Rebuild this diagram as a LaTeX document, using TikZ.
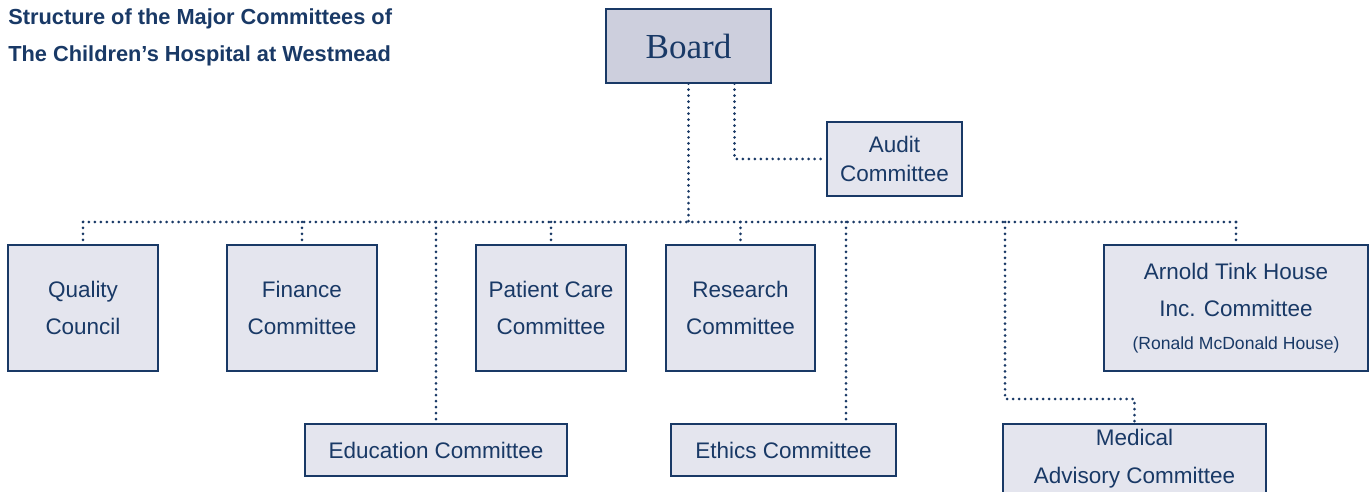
\documentclass[tikz,border=0pt]{standalone}
\usepackage{fontspec}
\setmainfont{Liberation Sans}
\newfontfamily\boardfont{Liberation Serif}
\usepackage{tikz}
\usetikzlibrary{positioning,calc}

\definecolor{navy}{RGB}{25,57,102}
\definecolor{boxfill}{RGB}{228,229,238}
\definecolor{boardfill}{RGB}{205,207,221}

\begin{document}
\begin{tikzpicture}[
  x=0.02cm, y=-0.02cm,
  font=\fontsize{12.8}{21.5}\selectfont,
  box/.style  ={draw=navy,fill=boxfill,line width=0.85pt,text=navy,
                align=center,inner sep=0pt},
  topbox/.style={box,fill=boardfill,font=\boardfont\fontsize{20}{24}\selectfont},
  ttl/.style  ={font=\bfseries\fontsize{12.4}{21}\selectfont,text=navy,
                align=left,inner sep=0pt},
  link/.style ={draw=navy,line width=1.7pt,line cap=round,
                dash pattern=on 0pt off 3.4pt}]

\useasboundingbox[fill=white] (0,0) rectangle (1369,492);

%---------------- Heading ----------------
\node[ttl,anchor=west] (title) at (8,37)
  {Structure of the Major Committees of\\The Children's Hospital at Westmead};

%---------------- Board and audit ----------------
\node[topbox,minimum width=3.3cm,minimum height=1.48cm] (board) at (688.5,46) {Board};
\node[box,minimum width=2.7cm,minimum height=1.48cm,
      font=\fontsize{12.8}{16.4}\selectfont] (audit) at (894.5,159) {Audit\\Committee};

%---------------- Upper row ----------------
\node[box,minimum width=3cm,minimum height=2.52cm]    (quality)  at (83,308)    {Quality\\Council};
\node[box,minimum width=3cm,minimum height=2.52cm]    (finance)  at (302,308)   {Finance\\Committee};
\node[box,minimum width=3cm,minimum height=2.52cm]    (patient)  at (551,308)   {Patient Care\\Committee};
\node[box,minimum width=2.98cm,minimum height=2.52cm] (research) at (740.5,308) {Research\\Committee};
\node[box,minimum width=5.28cm,minimum height=2.52cm] (arnold)   at (1236,308)
  {Arnold Tink House\\Inc. Committee\\[-3pt]{\fontsize{10}{12}\selectfont(Ronald McDonald House)}};

%---------------- Lower row ----------------
\node[box,minimum width=5.24cm,minimum height=1.04cm] (education) at (436,450)    {Education Committee};
\node[box,minimum width=4.5cm,minimum height=1.04cm]  (ethics)    at (783.5,450)  {Ethics Committee};
\node[box,minimum width=5.26cm,minimum height=1.4cm]  (medical)   at (1134.5,459) {Medical\\Advisory Committee};

%---------------- Connectors ----------------
\coordinate (bus)  at (688.5,222);
\coordinate (ethx) at (846,222);
\coordinate (medx) at (1005,222);
\coordinate (medbend) at (1005,399);

\draw[link] ($(board.south)+(46,0)$) |- (audit.west);
\draw[link] (board.south) -- (bus);
\draw[link] (quality.north |- bus) -- (arnold.north |- bus);

\foreach \n in {quality,finance,education,patient,research,arnold}
  \draw[link] (\n.north |- bus) -- (\n.north);
\draw[link] (ethx) -- (ethx |- ethics.north);
\draw[link] (medx) -- (medbend) -| (medical.north);

\end{tikzpicture}
\end{document}
